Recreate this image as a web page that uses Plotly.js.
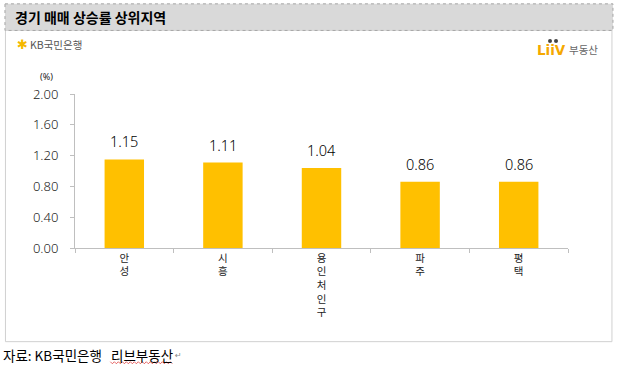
<!DOCTYPE html>
<html>
<head>
<meta charset="utf-8">
<script src="https://cdn.plot.ly/plotly-3.0.1.min.js"></script>
<style>
html,body{margin:0;padding:0;background:#fff;}
#chart{width:634px;height:368px;}
</style>
</head>
<body>
<div id="chart"></div>
<script>
const categories = ["안성", "시흥", "용인 처인구", "파주", "평택"];
const tickLabels = ["안<br>성", "시<br>흥", "용<br>인<br>처<br>인<br>구", "파<br>주", "평<br>택"];
const values = [1.15, 1.11, 1.04, 0.86, 0.86];
const yTicks = [0, 0.4, 0.8, 1.2, 1.6, 2.0];

const W = 634, H = 368;
const L = 74.6, R = 568, T = 94.3, B = 247.7;
const px = x => (x - L) / (R - L);
const py = y => (B - y) / (B - T);
const FONT = '"Noto Sans CJK KR", "Noto Sans", sans-serif';
const NUMFONT = '"Noto Sans", "Open Sans", sans-serif';

const trace = {
  type: 'bar',
  x: categories,
  y: values,
  width: 0.4,
  marker: {color: '#FFC000'},
  hoverinfo: 'none'
};

const annotations = values.map((v, i) => ({
  x: categories[i], y: v, xref: 'x', yref: 'y',
  text: v.toFixed(2), showarrow: false,
  yanchor: 'bottom', yshift: 6,
  font: {family: NUMFONT, size: 14.5, color: '#000', weight: 300}
}));

annotations.push(
  {xref:'paper', yref:'paper', x: px(13), y: py(17.5), xanchor:'left', yanchor:'middle',
   text:'<b>경기 매매 상승률 상위지역</b>', showarrow:false,
   font:{family:FONT, size:14, color:'#000'}},
  {xref:'paper', yref:'paper', x: px(46), y: py(77), xanchor:'center', yanchor:'middle',
   text:'(%)', showarrow:false, font:{family:NUMFONT, size:9, color:'#222'}},
  {xref:'paper', yref:'paper', x: px(15), y: py(45), xanchor:'left', yanchor:'middle',
   text:'<b>✱</b>', showarrow:false,
   font:{family:'"DejaVu Sans", sans-serif', size:13, color:'#f5b800'}},
  {xref:'paper', yref:'paper', x: px(28), y: py(45), xanchor:'left', yanchor:'middle',
   text:'KB국민은행', showarrow:false, font:{family:FONT, size:10.5, color:'#555'}},
  {xref:'paper', yref:'paper', x: px(535), y: py(50.5), xanchor:'left', yanchor:'middle',
   text:'<b>LiiV</b>', showarrow:false, font:{family:'"DejaVu Sans", sans-serif', size:13.5, color:'#f5a800'}},
  {xref:'paper', yref:'paper', x: px(567), y: py(50), xanchor:'left', yanchor:'middle',
   text:'부동산', showarrow:false, font:{family:FONT, size:10.5, color:'#666'}},
  {xref:'paper', yref:'paper', x: px(1), y: py(354), xanchor:'left', yanchor:'middle',
   text:'자료: KB국민은행&nbsp;&nbsp; 리브부동산', showarrow:false, font:{family:FONT, size:13.5, color:'#000'}},
  {xref:'paper', yref:'paper', x: px(173), y: py(355), xanchor:'left', yanchor:'middle',
   text:'↵', showarrow:false, font:{family:'"DejaVu Sans", sans-serif', size:8, color:'#888'}}
);

// wavy spell-check underline
let wave = 'M ' + px(110) + ' ' + py(361);
for (let xx = 110, k = 0; xx < 172; xx += 2, k++) {
  wave += ' L ' + px(xx + 2) + ' ' + py(k % 2 ? 361 : 363);
}

const shapes = [
  {type:'rect', xref:'paper', yref:'paper', x0:px(5), x1:px(612), y0:py(31), y1:py(341),
   fillcolor:'#fff', line:{color:'#d0d0d0', width:1}, layer:'below'},
  {type:'rect', xref:'paper', yref:'paper', x0:px(4.5), x1:px(613), y0:py(4.5), y1:py(31),
   fillcolor:'#d9d9d9', line:{color:'#a6a6a6', width:1, dash:'dot'}, layer:'below'},
  {type:'path', xref:'paper', yref:'paper', path: wave, line:{color:'#e04040', width:0.8}},
  // Liiv dots
  {type:'circle', xref:'paper', yref:'paper', x0:px(548), x1:px(552), y0:py(39.5), y1:py(43.5),
   fillcolor:'#444', line:{width:0}},
  {type:'circle', xref:'paper', yref:'paper', x0:px(554), x1:px(558), y0:py(39.5), y1:py(43.5),
   fillcolor:'#444', line:{width:0}}
];

const layout = {
  width: W, height: H,
  margin: {l: L, r: W - R, t: T, b: H - B, pad: 0},
  paper_bgcolor: '#fff', plot_bgcolor: 'rgba(0,0,0,0)',
  showlegend: false,
  bargap: 0.6,
  font: {family: FONT, color: '#222'},
  xaxis: {
    type: 'category',
    tickvals: categories, ticktext: tickLabels,
    tickangle: 0,
    showline: true, linecolor: '#bfbfbf', linewidth: 1,
    ticks: 'outside', tickson: 'boundaries', ticklen: 4, tickcolor: '#bfbfbf',
    showgrid: false, zeroline: false,
    tickfont: {family: FONT, size: 10.5, color: '#222'},
    fixedrange: true
  },
  yaxis: {
    range: [0, 2.0],
    tickvals: yTicks,
    tickformat: '.2f',
    showline: true, linecolor: '#bfbfbf', linewidth: 1,
    ticks: 'outside', ticklen: 4, tickcolor: '#bfbfbf',
    ticklabelstandoff: 9,
    showgrid: false, zeroline: false,
    tickfont: {family: NUMFONT, size: 13, color: '#222', weight: 300},
    fixedrange: true
  },
  annotations: annotations,
  shapes: shapes
};

Plotly.newPlot('chart', [trace], layout, {displayModeBar: false, staticPlot: true});
</script>
</body>
</html>
